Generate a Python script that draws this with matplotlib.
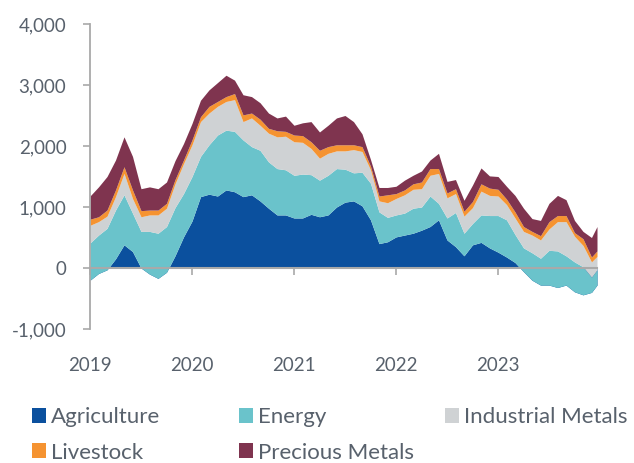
import numpy as np
import matplotlib
matplotlib.use('Agg')
import matplotlib.pyplot as plt
from matplotlib.patches import Patch
from matplotlib.ticker import FuncFormatter, MultipleLocator

# month index from Jan 2019 (last point is mid/late Dec 2023)
months = list(range(60)) + [59.65]

agriculture = [-200, -90, -30, 150, 380, 270, 0, -100, -170, -70, 200, 510,
               770, 1170, 1210, 1180, 1280, 1250, 1170, 1200, 1100, 980, 870, 870,
               820, 820, 880, 840, 870, 1000, 1080, 1100, 1020, 790, 400, 430,
               510, 540, 570, 620, 680, 790, 460, 350, 200, 380, 420, 330,
               260, 180, 90, -60, -200, -280, -280, -320, -280, -390, -440, -400,
               -280]
energy = [610, 630, 680, 800, 820, 630, 600, 700, 740, 750, 790, 710,
          730, 660, 810, 1000, 980, 990, 930, 790, 830, 760, 760, 740,
          700, 720, 650, 600, 650, 630, 540, 460, 550, 600, 520, 400,
          360, 360, 410, 380, 500, 270, 360, 560, 370, 350, 450, 530,
          600, 610, 460, 390, 450, 440, 570, 600, 480, 490, 460, 250,
          250]
industrial_metals = [290, 220, 200, 220, 350, 240, 240, 270, 300, 300, 390, 490,
                     520, 570, 520, 470, 470, 520, 300, 470, 410, 470, 520, 550,
                     550, 520, 430, 360, 360, 290, 300, 380, 340, 220, 180, 240,
                     270, 300, 310, 300, 340, 490, 330, 310, 280, 260, 390, 330,
                     320, 250, 270, 270, 290, 300, 350, 480, 560, 420, 350, 250,
                     220]
livestock = [100, 80, 100, 110, 110, 140, 100, 80, 80, 80, 70, 60,
             80, 80, 110, 80, 80, 100, 110, 80, 100, 80, 100, 80,
             110, 110, 110, 130, 110, 100, 100, 80, 80, 60, 80, 130,
             80, 80, 90, 110, 110, 80, 80, 80, 80, 100, 120, 120,
             110, 90, 100, 80, 60, 70, 120, 100, 100, 60, 110, 80,
             90]
precious_metals = [380, 490, 550, 490, 490, 550, 360, 380, 350, 350, 310, 270,
                   270, 270, 270, 310, 350, 220, 330, 270, 270, 250, 210, 250,
                   160, 210, 330, 300, 350, 440, 480, 380, 210, 110, 140, 120,
                   120, 160, 140, 180, 140, 250, 190, 150, 180, 270, 260, 200,
                   210, 210, 270, 300, 210, 250, 300, 330, 260, 200, 120, 320,
                   400]

series_names = ['Agriculture', 'Energy', 'Industrial Metals', 'Livestock', 'Precious Metals']
colors = ['#0b509e', '#6ac3cb', '#cfd2d4', '#f59331', '#7f344f']
text_color = '#58616c'
axis_color = '#a9a9a9'

plt.rcParams['font.family'] = ['Lato', 'DejaVu Sans']

x = 2019 + np.array(months) / 12.0
data = [agriculture, energy, industrial_metals, livestock, precious_metals]

fig = plt.figure(figsize=(6.34, 4.63), dpi=100)
ax = fig.add_axes([90 / 634, 1 - 329 / 463, (597 - 90) / 634, (329 - 24) / 463])

# excel-like stacking: each layer is drawn from the previous running total
prev = np.zeros(len(x))
for values, color in zip(data, colors):
    cum = prev + np.array(values)
    ax.fill_between(x, prev, cum, color=color, linewidth=0)
    prev = cum

ax.set_xlim(x[0], x[-1])
ax.set_ylim(-1000, 4000)
ax.yaxis.set_major_locator(MultipleLocator(1000))
ax.yaxis.set_major_formatter(FuncFormatter(lambda v, p: '{:,.0f}'.format(v)))
ax.set_xticks([2019, 2020, 2021, 2022, 2023])

for side in ['top', 'right']:
    ax.spines[side].set_visible(False)
ax.spines['left'].set_color(axis_color)
ax.spines['left'].set_linewidth(1.3)
ax.spines['bottom'].set_position(('data', 0))
ax.spines['bottom'].set_color(axis_color)
ax.spines['bottom'].set_linewidth(1.5)

ax.tick_params(axis='y', direction='out', length=5, width=1.2, color=axis_color,
               labelcolor=text_color, labelsize=13.5, pad=12)
ax.tick_params(axis='x', direction='out', length=5, width=1.2, color=axis_color,
               labelbottom=False)

# year labels sit below the plot area, not on the zero line
ax_lab = ax.secondary_xaxis(0)
ax_lab.set_xticks([2019, 2020, 2021, 2022, 2023])
ax_lab.xaxis.set_major_formatter(FuncFormatter(lambda v, p: '%d' % v))
ax_lab.spines['bottom'].set_visible(False)
ax_lab.tick_params(axis='x', length=0, labelcolor=text_color, labelsize=13.5, pad=20)

# legend: three columns placed by hand
handles = [Patch(facecolor=c, edgecolor='none', label=n) for n, c in zip(series_names, colors)]
columns = [([handles[0], handles[3]], 32), ([handles[1], handles[4]], 239), ([handles[2]], 445)]
for col_handles, x_px in columns:
    fig.legend(handles=col_handles, loc='upper left', bbox_to_anchor=(x_px / 634, 1 - 407 / 463),
               frameon=False, fontsize=16, labelcolor=text_color, handlelength=0.65,
               handleheight=0.65, handletextpad=0.2, labelspacing=0.7, borderpad=0,
               borderaxespad=0)

fig.savefig('out.png', dpi=100)
